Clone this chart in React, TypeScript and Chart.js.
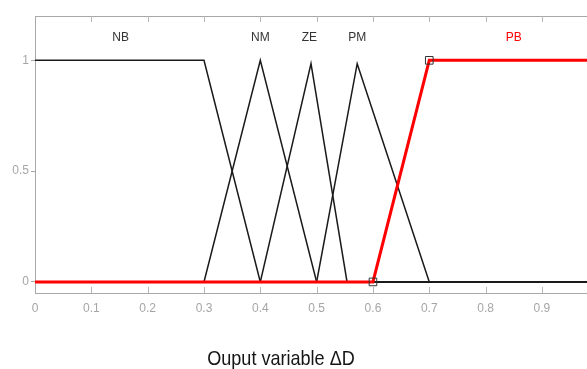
import React, { useEffect, useRef } from "react";
import { Chart, registerables } from "chart.js";

Chart.register(...registerables);

// Membership functions of the output variable ΔD
const nbX = [0, 0.3, 0.4, 1.0];
const nbY = [1, 1, 0, 0];
const nmX = [0, 0.3, 0.4, 0.5, 1.0];
const nmY = [0, 0, 1, 0, 0];
const zeX = [0, 0.4, 0.49, 0.554, 1.0];
const zeY = [0, 0, 0.985, 0, 0];
const pmX = [0, 0.5, 0.572, 0.7, 1.0];
const pmY = [0, 0, 0.985, 0, 0];
const pbX = [0, 0.6, 0.7, 1.0];
const pbY = [0, 0, 1, 1];
const pbMarkers = [0, 5.4, 5.4, 0];

const mfNames = ["NB", "NM", "ZE", "PM", "PB"];
const mfLabelX = [0.152, 0.4, 0.487, 0.572, 0.85];
const mfLabelY = 1.1;
const mfLabelColors = ["#333333", "#333333", "#333333", "#333333", "#ff0000"];

const xTicks = [0, 0.1, 0.2, 0.3, 0.4, 0.5, 0.6, 0.7, 0.8, 0.9];
const yTicks = [0, 0.5, 1];
const xMin = 0;
const xMax = 0.98;
const yMin = -0.05;
const yMax = 1.2;
const axisTitle = "Ouput variable \u0394D";

const pts = (xs: number[], ys: number[]) => xs.map((x, i) => ({ x, y: ys[i] }));

const SANS = "'Liberation Sans', Arial, sans-serif";

const decorPlugin = {
  id: "decor",
  afterDraw(chart: any) {
    const { ctx, chartArea } = chart;
    const xs = chart.scales.x;
    const ys = chart.scales.y;
    ctx.save();
    // top border
    ctx.strokeStyle = "#a8a8a8";
    ctx.lineWidth = 1;
    ctx.beginPath();
    ctx.moveTo(chartArea.left, Math.round(chartArea.top) + 0.5);
    ctx.lineTo(chartArea.right, Math.round(chartArea.top) + 0.5);
    ctx.stroke();
    // inside ticks top & bottom
    ctx.strokeStyle = "#b8b8b8";
    xTicks.forEach((v) => {
      if (v === 0) return;
      const px = Math.round(xs.getPixelForValue(v)) + 0.5;
      ctx.beginPath();
      ctx.moveTo(px, chartArea.top);
      ctx.lineTo(px, chartArea.top + 6);
      ctx.moveTo(px, chartArea.bottom);
      ctx.lineTo(px, chartArea.bottom - 6);
      ctx.stroke();
    });
    // MF labels
    ctx.font = "12px " + SANS;
    ctx.textAlign = "center";
    ctx.textBaseline = "middle";
    mfNames.forEach((n, i) => {
      ctx.fillStyle = mfLabelColors[i];
      ctx.fillText(n, xs.getPixelForValue(mfLabelX[i]), ys.getPixelForValue(mfLabelY));
    });
    // axis title (condensed)
    ctx.fillStyle = "#151515";
    ctx.font = "21px " + SANS;
    ctx.textAlign = "center";
    ctx.textBaseline = "alphabetic";
    ctx.translate(281, 365);
    ctx.scale(0.86, 1);
    ctx.fillText(axisTitle, 0, 0);
    ctx.restore();
  },
};

export default function App() {
  const ref = useRef<HTMLCanvasElement | null>(null);
  useEffect(() => {
    if (!ref.current) return;
    const black = {
      borderColor: "#1a1a1a",
      borderWidth: 1.5,
      pointRadius: 0,
      fill: false,
      tension: 0,
      order: 1,
    };
    const chart = new Chart(ref.current, {
      type: "line",
      data: {
        datasets: [
          {
            label: "PB",
            data: pts(pbX, pbY),
            borderColor: "#ff0000",
            borderWidth: 3,
            pointRadius: pbMarkers,
            pointStyle: "rect",
            pointBorderColor: "#333333",
            pointBackgroundColor: "rgba(0,0,0,0)",
            pointBorderWidth: 1,
            fill: false,
            order: 0,
          } as any,
          { label: "NB", data: pts(nbX, nbY), ...black },
          { label: "NM", data: pts(nmX, nmY), ...black },
          { label: "ZE", data: pts(zeX, zeY), ...black },
          { label: "PM", data: pts(pmX, pmY), ...black },
        ],
      },
      options: {
        animation: false,
        responsive: false,
        layout: { padding: { top: 16, right: 0, left: 0, bottom: 0 } },
        plugins: {
          legend: { display: false },
          tooltip: { enabled: false },
          title: { display: false },
        },
        scales: {
          x: {
            type: "linear",
            min: xMin,
            max: xMax,
            afterBuildTicks: (s: any) => {
              s.ticks = xTicks.map((v) => ({ value: v }));
            },
            afterFit: (s: any) => {
              s.height = 76;
            },
            grid: { display: false, drawTicks: false },
            border: { display: true, color: "#a8a8a8", width: 1 },
            ticks: {
              padding: 8,
              color: "#a6a6a6",
              font: { size: 12, family: SANS },
              maxRotation: 0,
              autoSkip: false,
              callback: (v: any) => String(Math.round(Number(v) * 10) / 10),
            },
          },
          y: {
            type: "linear",
            min: yMin,
            max: yMax,
            afterBuildTicks: (s: any) => {
              s.ticks = yTicks.map((v) => ({ value: v }));
            },
            afterFit: (s: any) => {
              s.width = 35;
            },
            grid: {
              display: true,
              drawOnChartArea: false,
              drawTicks: true,
              tickLength: 4,
              color: "#a8a8a8",
            },
            border: { display: true, color: "#a8a8a8", width: 1 },
            ticks: {
              padding: 2,
              color: "#a6a6a6",
              font: { size: 12, family: SANS },
              callback: (v: any) => String(v),
            },
          },
        },
      } as any,
      plugins: [decorPlugin],
    });
    return () => chart.destroy();
  }, []);
  return (
    <div
      style={{
        position: "absolute",
        left: 0,
        top: 0,
        width: 587,
        height: 369,
        overflow: "hidden",
        background: "#ffffff",
      }}
    >
      <canvas ref={ref} width={587} height={369} style={{ display: "block" }} />
    </div>
  );
}
